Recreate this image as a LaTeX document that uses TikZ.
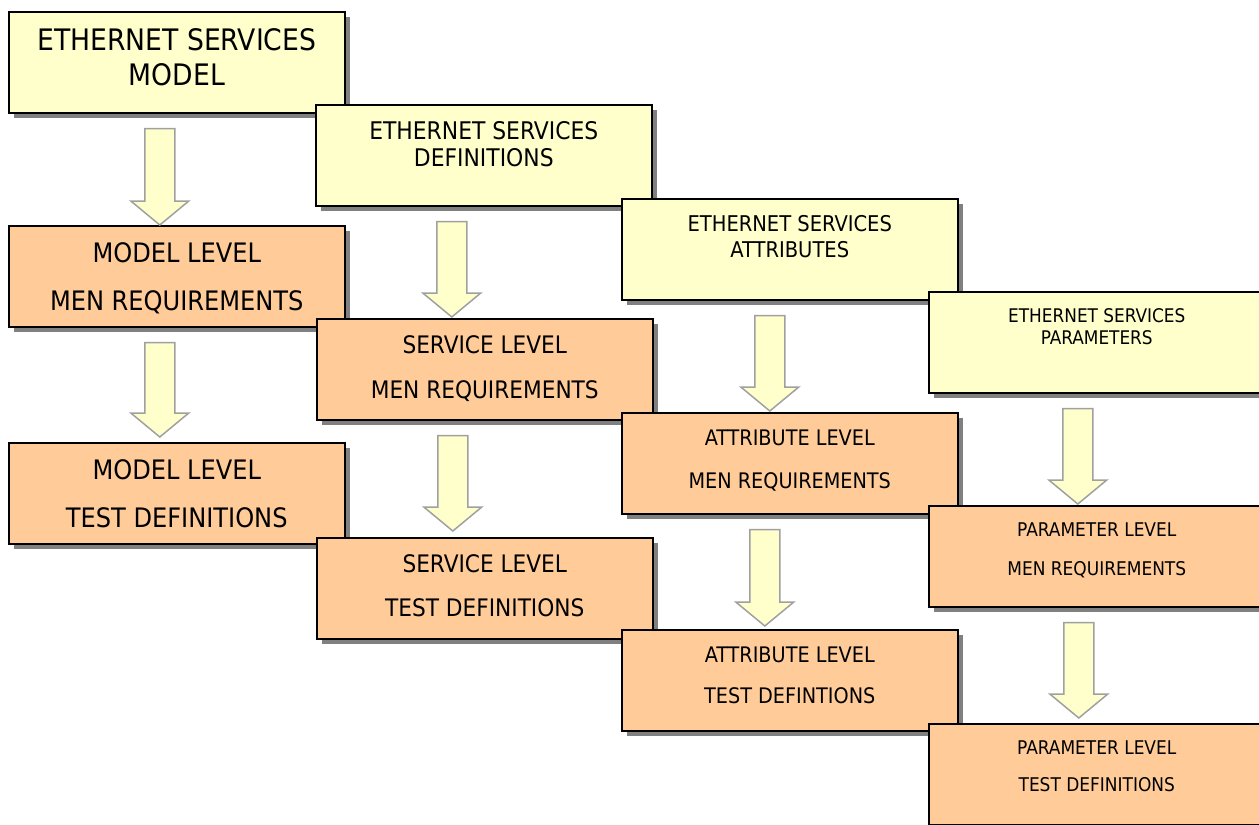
\documentclass[tikz,border=0pt]{standalone}
\usepackage{fontspec}
\setmainfont{DejaVu Sans Condensed}
\usetikzlibrary{shadows,calc}
\usepackage{xcolor}

\definecolor{boxyellow}{HTML}{FFFFCC}
\definecolor{boxorange}{HTML}{FFCC99}
\definecolor{arrowgray}{HTML}{A0A0A0}
\definecolor{shadowgray}{HTML}{808080}

% two centred lines, hung from the top of a 336 x 101 box
\newcommand{\boxtext}[4]{\parbox[c][101pt][t]{336pt}{\vspace*{17pt}\centering\fontsize{#1pt}{#2pt}\selectfont #3\\#4\par}}

% block arrow from below one box down to the next one
\newcommand{\levelarrow}[4]{%
  \draw[blockarrow] let \p1=($(#1.south)+(#3,15)$), \p2=($(#2.north)+(#3,-#4)$) in
    (\x1-15pt,\y1) -- (\x1+15pt,\y1) -- (\x1+15pt,\y2+24pt) -- (\x1+29pt,\y2+24pt)
    -- (\x1,\y2) -- (\x1-29pt,\y2+24pt) -- (\x1-15pt,\y2+24pt) -- cycle;
}

\begin{document}
\begin{tikzpicture}[x=1pt, y=-1pt]
            \tikzstyle{esbox} = [draw=black, line width=1.6pt, inner sep=0pt, anchor=north west,
                                 drop shadow={shadow xshift=5pt, shadow yshift=-5pt, fill=shadowgray, opacity=1}]
            \tikzstyle{topbox} = [esbox, fill=boxyellow]
            \tikzstyle{levelbox} = [esbox, fill=boxorange]
            \tikzstyle{blockarrow} = [draw=arrowgray, line width=1.5pt, fill=boxyellow, line join=miter]
            \useasboundingbox (0, 0) rectangle (1259, 825);
            \clip (0, 0) rectangle (1259, 825);
            % yellow service boxes
            \node[topbox] (esmodel) at (8, 11) {\boxtext{29.6}{35}{ETHERNET SERVICES}{MODEL}};
            \node[topbox] (esdefs) at (315, 104) {\boxtext{24.3}{27}{ETHERNET SERVICES}{DEFINITIONS}};
            \node[topbox] (esattrs) at (621, 198) {\boxtext{21.7}{26}{ETHERNET SERVICES}{ATTRIBUTES}};
            \node[topbox] (esparams) at (928, 291) {\boxtext{18.8}{22}{ETHERNET SERVICES}{PARAMETERS}};
            % requirement boxes
            \node[levelbox] (modelreq) at (8, 225) {\boxtext{26.8}{48}{MODEL LEVEL}{MEN REQUIREMENTS}};
            \node[levelbox] (servicereq) at (316, 318) {\boxtext{24.1}{45}{SERVICE LEVEL}{MEN REQUIREMENTS}};
            \node[levelbox] (attrreq) at (621, 412) {\boxtext{21.4}{43}{ATTRIBUTE LEVEL}{MEN REQUIREMENTS}};
            \node[levelbox] (paramreq) at (928, 505) {\boxtext{18.9}{39}{PARAMETER LEVEL}{MEN REQUIREMENTS}};
            % test boxes
            \node[levelbox] (modeltest) at (8, 442) {\boxtext{26.8}{48}{MODEL LEVEL}{TEST DEFINITIONS}};
            \node[levelbox] (servicetest) at (316, 537) {\boxtext{24.1}{44}{SERVICE LEVEL}{TEST DEFINITIONS}};
            \node[levelbox] (attrtest) at (621, 629) {\boxtext{21.4}{41}{ATTRIBUTE LEVEL}{TEST DEFINTIONS}};
            \node[levelbox] (paramtest) at (928, 723) {\boxtext{18.9}{37}{PARAMETER LEVEL}{TEST DEFINITIONS}};
            % arrows
            \levelarrow{esmodel}{modelreq}{-17}{0}
            \levelarrow{modelreq}{modeltest}{-17}{5}
            \levelarrow{esdefs}{servicereq}{-32}{1}
            \levelarrow{servicereq}{servicetest}{-32}{6}
            \levelarrow{esattrs}{attrreq}{-20}{1}
            \levelarrow{attrreq}{attrtest}{-25}{3}
            \levelarrow{esparams}{paramreq}{-19}{1}
            \levelarrow{paramreq}{paramtest}{-18}{5}
        \end{tikzpicture}
\end{document}
